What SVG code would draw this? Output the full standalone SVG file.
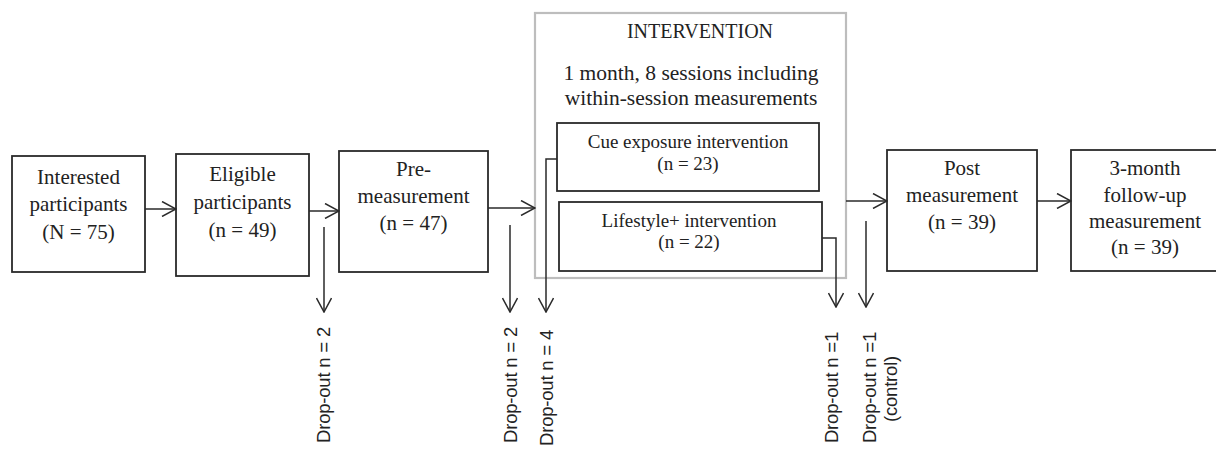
<svg xmlns="http://www.w3.org/2000/svg" width="1216" height="451" viewBox="0 0 1216 451">
<defs>
<style>
.box{fill:#fff;stroke:#2a2a2a;stroke-width:1.8}
.outer{fill:none;stroke:#bdbdbd;stroke-width:2.2}
.t{font-family:"Liberation Serif","Times New Roman",serif;font-size:21px;fill:#222;text-anchor:middle}
.s{font-size:19px}
.c{fill:none;stroke:#2a2a2a;stroke-width:1.5}
.d{font-family:"Liberation Sans",Arial,sans-serif;font-size:18.5px;letter-spacing:-0.2px;fill:#222}
</style>
<marker id="ah" viewBox="0 0 16 16" refX="15" refY="8" markerWidth="16" markerHeight="16" markerUnits="userSpaceOnUse" orient="auto">
<path d="M1,0.5 L15,8 L1,15.5" fill="none" stroke="#2a2a2a" stroke-width="1.5"/>
</marker>
</defs>
<rect width="1216" height="451" fill="#fff"/>

<g id="interested">
<rect class="box" x="12" y="156" width="133" height="116"/>
<text class="t" x="78.5" y="184">Interested</text>
<text class="t" x="78.5" y="211">participants</text>
<text class="t" x="78.5" y="239">(N = 75)</text>
</g>

<g id="eligible">
<rect class="box" x="176" y="154" width="133" height="122"/>
<text class="t" x="242.5" y="181">Eligible</text>
<text class="t" x="242.5" y="209">participants</text>
<text class="t" x="242.5" y="237">(n = 49)</text>
</g>

<g id="pre">
<rect class="box" x="339" y="151" width="149" height="121"/>
<text class="t" x="413.5" y="176">Pre-</text>
<text class="t" x="413.5" y="203">measurement</text>
<text class="t" x="413.5" y="230">(n = 47)</text>
</g>

<g id="intervention">
<rect class="outer" x="535" y="13" width="311" height="265"/>
<text class="t" x="700" y="38" style="font-size:20px">INTERVENTION</text>
<text class="t" x="691" y="80" style="font-size:21.5px">1 month, 8 sessions including</text>
<text class="t" x="691" y="105" style="font-size:21.5px">within-session measurements</text>
</g>

<g id="cue">
<rect class="box" x="557" y="123" width="262" height="68"/>
<text class="t s" x="688" y="148">Cue exposure intervention</text>
<text class="t s" x="688" y="170">(n = 23)</text>
</g>

<g id="lifestyle">
<rect class="box" x="559" y="202" width="263" height="69"/>
<text class="t s" x="689" y="227">Lifestyle+ intervention</text>
<text class="t s" x="689" y="248">(n = 22)</text>
</g>

<g id="post">
<rect class="box" x="887" y="150" width="150" height="121"/>
<text class="t" x="962" y="175">Post</text>
<text class="t" x="962" y="202">measurement</text>
<text class="t" x="962" y="229">(n = 39)</text>
</g>

<g id="followup">
<rect class="box" x="1071" y="150" width="152" height="121"/>
<text class="t" x="1145" y="175">3-month</text>
<text class="t" x="1145" y="202">follow-up</text>
<text class="t" x="1145" y="228">measurement</text>
<text class="t" x="1145" y="254">(n = 39)</text>
</g>

<g id="connectors">
<line class="c" x1="145" y1="209" x2="176" y2="209" marker-end="url(#ah)"/>
<line class="c" x1="309" y1="211" x2="339" y2="211" marker-end="url(#ah)"/>
<line class="c" x1="488" y1="208" x2="535" y2="208" marker-end="url(#ah)"/>
<line class="c" x1="846" y1="201" x2="887" y2="201" marker-end="url(#ah)"/>
<line class="c" x1="1037" y1="201" x2="1071" y2="201" marker-end="url(#ah)"/>
<line class="c" x1="324" y1="227" x2="324" y2="312" marker-end="url(#ah)"/>
<line class="c" x1="510" y1="225" x2="510" y2="312" marker-end="url(#ah)"/>
<polyline class="c" points="557,159 546,159 546,312" marker-end="url(#ah)"/>
<polyline class="c" points="822,238 836,238 836,307" marker-end="url(#ah)"/>
<line class="c" x1="866" y1="221" x2="866" y2="307" marker-end="url(#ah)"/>
</g>

<g id="dropout-labels">
<text class="d" text-anchor="end" transform="translate(330,327) rotate(-90)">Drop-out n = 2</text>
<text class="d" text-anchor="end" transform="translate(517,327) rotate(-90)">Drop-out n = 2</text>
<text class="d" text-anchor="end" transform="translate(553,330) rotate(-90)">Drop-out n = 4</text>
<text class="d" text-anchor="end" transform="translate(838,332) rotate(-90)">Drop-out n =1</text>
<text class="d" text-anchor="end" transform="translate(876,332) rotate(-90)">Drop-out n =1</text>
<text class="d" text-anchor="middle" transform="translate(897,389) rotate(-90)">(control)</text>
</g>
</svg>
